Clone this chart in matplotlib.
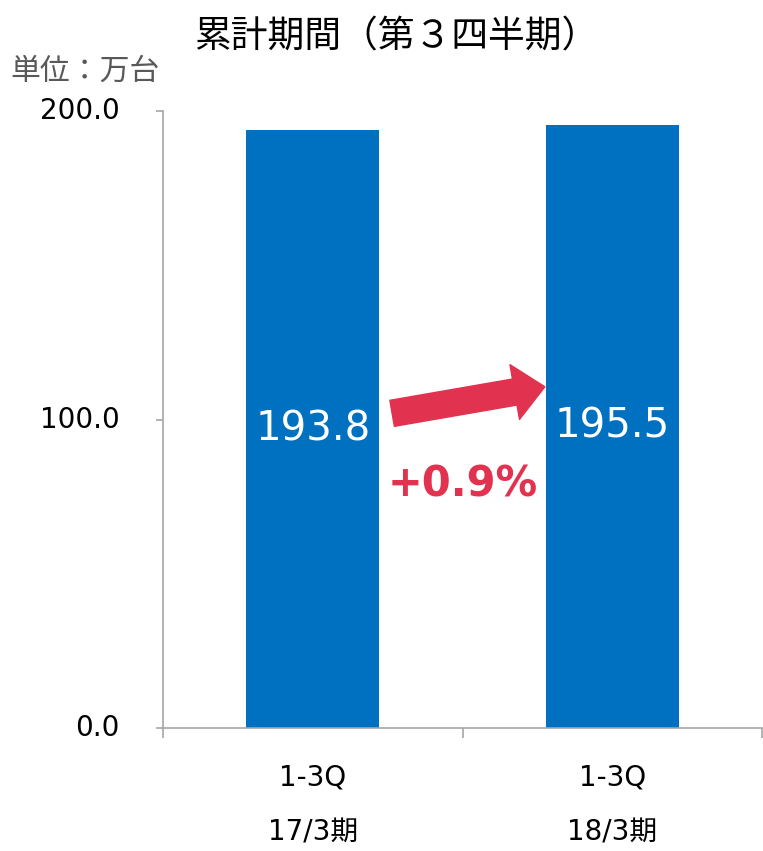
import numpy as np
import matplotlib.pyplot as plt
from matplotlib.patches import FancyArrowPatch

plt.rcParams['font.family'] = ['DejaVu Sans', 'Noto Sans CJK JP']

periods = ["1-3Q", "1-3Q"]
years = ["17/3期", "18/3期"]
values = [193.8, 195.5]
change_label = "+0.9%"
title = "累計期間（第３四半期）"
unit = "単位：万台"

bar_color = "#0070C0"
red = "#E1334F"
grey = "#A6A6A6"
cjk = ['Noto Sans CJK JP', 'DejaVu Sans']

fig = plt.figure(figsize=(7.63, 8.51), dpi=100)
ax = fig.add_axes([163 / 763, 123 / 851, 599 / 763, 617 / 851])

x = np.arange(len(values))
ax.bar(x, values, width=0.445, color=bar_color, zorder=2)

for xi, v in zip(x, values):
    ax.text(xi, v / 2, f"{v:.1f}", color="white", fontsize=29,
            ha="center", va="center")

# category labels, two rows under the axis
for xi, p, yr in zip(x, periods, years):
    ax.text(xi, -0.081, p, transform=ax.get_xaxis_transform(),
            fontsize=20, ha="center", va="center")
    ax.text(xi, -0.170, yr, transform=ax.get_xaxis_transform(),
            fontsize=20, ha="center", va="center")

ax.set_xlim(-0.5, 1.5)
ax.set_ylim(0, 200)
ax.set_yticks([0, 100, 200])
ax.set_yticklabels([f"{t:.1f}" for t in [0, 100, 200]], fontsize=20)
ax.set_xticks([-0.5, 0.5, 1.5])
ax.set_xticklabels([])
ax.tick_params(axis="x", length=7, color=grey, width=1.2)
ax.tick_params(axis="y", length=5, color=grey, width=1.2, pad=26)
for lbl in ax.get_yticklabels():
    lbl.set_va("center")

for s in ["top", "right"]:
    ax.spines[s].set_visible(False)
for s in ["left", "bottom"]:
    ax.spines[s].set_color(grey)
    ax.spines[s].set_linewidth(1.2)

# growth arrow between the bars
arrow = FancyArrowPatch((0.265, 102.0), (0.775, 110.6),
                        arrowstyle="simple,head_length=1.1,head_width=2.0,tail_width=0.95",
                        mutation_scale=20, color=red, shrinkA=0, shrinkB=0, zorder=3)
ax.add_patch(arrow)
ax.text(0.5, 79, change_label, color=red, fontsize=30, fontweight="bold",
        ha="center", va="center")

fig.text(0.519, 0.956, title, fontsize=26.5, ha="center", va="center", family=cjk)
fig.text(0.014, 0.916, unit, fontsize=21.5, color="#595959", ha="left", va="center",
         family=cjk)

fig.savefig("out.png", dpi=100)
